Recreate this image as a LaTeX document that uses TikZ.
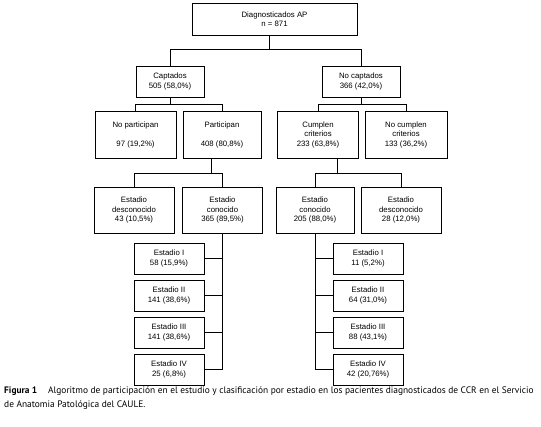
\documentclass[tikz,border=0pt]{standalone}
\usepackage{fontspec}
\setmainfont{Liberation Sans}
\newfontfamily\piefont{PT Sans}
\begin{document}
\begin{tikzpicture}[x=1pt,y=-1pt,
    caja/.style={draw, line width=0.7pt, align=center, inner sep=0pt,
        font=\fontsize{7.8}{9.5}\selectfont},
    estadio/.style={caja, minimum width=70pt, minimum height=31pt},
    linea/.style={line width=0.7pt},
    pie/.style={anchor=base west, inner sep=0pt, font=\piefont\fontsize{9.4}{11}\selectfont}]

\useasboundingbox (0,0) rectangle (541,427);

% Cajas principales
\node[caja, minimum width=165pt, minimum height=32pt] (diag) at (274.5,19) {Diagnosticados AP\\n = 871};
\node[caja, minimum width=68pt, minimum height=31pt] (capt) at (170,81.5) {Captados\\505 (58,0\%)};
\node[caja, minimum width=78pt, minimum height=31pt] (nocapt) at (361,81.5) {No captados\\366 (42,0\%)};

\node[caja, minimum width=81pt, minimum height=47pt] (nopart) at (135.5,134.5) {No participan\\[9.5pt]97 (19,2\%)};
\node[caja, minimum width=78pt, minimum height=47pt] (part) at (222,134.5) {Participan\\[9.5pt]408 (80,8\%)};
\node[caja, minimum width=81pt, minimum height=47pt] (cumpl) at (318,134.5) {Cumplen\\criterios\\233 (63,8\%)};
\node[caja, minimum width=82pt, minimum height=47pt] (nocumpl) at (406,134.5) {No cumplen\\criterios\\133 (36,2\%)};

\node[caja, minimum width=80pt, minimum height=46pt] (desconL) at (134,210) {Estadio\\desconocido\\43 (10,5\%)};
\node[caja, minimum width=80pt, minimum height=46pt] (conL) at (222.5,210) {Estadio\\conocido\\365 (89,5\%)};
\node[caja, minimum width=78pt, minimum height=46pt] (conR) at (315,210) {Estadio\\conocido\\205 (88,0\%)};
\node[caja, minimum width=80pt, minimum height=46pt] (desconR) at (401,210) {Estadio\\desconocido\\28 (12,0\%)};

% Estadios
\node[estadio] (eIL) at (169,258.5) {Estadio I\\58 (15,9\%)};
\node[estadio] (eIIL) at (169,295.5) {Estadio II\\141 (38,6\%)};
\node[estadio] (eIIIL) at (169,332.5) {Estadio III\\141 (38,6\%)};
\node[estadio] (eIVL) at (169,369.5) {Estadio IV\\25 (6,8\%)};
\node[estadio] (eIR) at (368,258.5) {Estadio I\\11 (5,2\%)};
\node[estadio] (eIIR) at (368,295.5) {Estadio II\\64 (31,0\%)};
\node[estadio] (eIIIR) at (368,332.5) {Estadio III\\88 (43,1\%)};
\node[estadio] (eIVR) at (368,369.5) {Estadio IV\\42 (20,76\%)};

% Conectores
\coordinate (r1) at (269,49);
\coordinate (r2L) at (170,104);
\coordinate (r2R) at (361,104);
\coordinate (r3L) at (211,173);
\coordinate (r3R) at (337,173);

\draw[linea] (diag.south -| r1) -- (r1);
\draw[linea] (capt.north) -- (capt.north |- r1) -- (nocapt.north |- r1) -- (nocapt.north);
\draw[linea] (capt.south) -- (r2L);
\draw[linea] (nopart.north) -- (nopart.north |- r2L) -- (part.north |- r2L) -- (part.north);
\draw[linea] (nocapt.south) -- (r2R);
\draw[linea] (cumpl.north) -- (cumpl.north |- r2R) -- (nocumpl.north |- r2R) -- (nocumpl.north);

\draw[linea] (part.south -| r3L) -- (r3L);
\draw[linea] (desconL.north) -- (desconL.north |- r3L) -- (conL.north |- r3L) -- (conL.north);
\draw[linea] (cumpl.south -| r3R) -- (r3R);
\draw[linea] (conR.north) -- (conR.north |- r3R) -- (desconR.north |- r3R) -- (desconR.north);

\draw[linea] (conL.south) -- (conL.south |- eIVL.east);
\draw[linea] (conR.south) -- (conR.south |- eIVR.west);
\foreach \e in {eIL,eIIL,eIIIL,eIVL}
    \draw[linea] (\e.east) -- (\e.east -| conL.south);
\foreach \e in {eIR,eIIR,eIIIR,eIVR}
    \draw[linea] (\e.west) -- (\e.west -| conR.south);

% Pie de figura
\node[pie] (fig) at (4,394) {\bfseries Figura 1};
\node[pie] (pie1) at (48,394) {Algoritmo de participación en el estudio y clasificación por estadio en los pacientes diagnosticados de CCR en el Servicio};
\node[pie] (pie2) at (4,408) {de Anatomia Patológica del CAULE.};

\end{tikzpicture}
\end{document}
